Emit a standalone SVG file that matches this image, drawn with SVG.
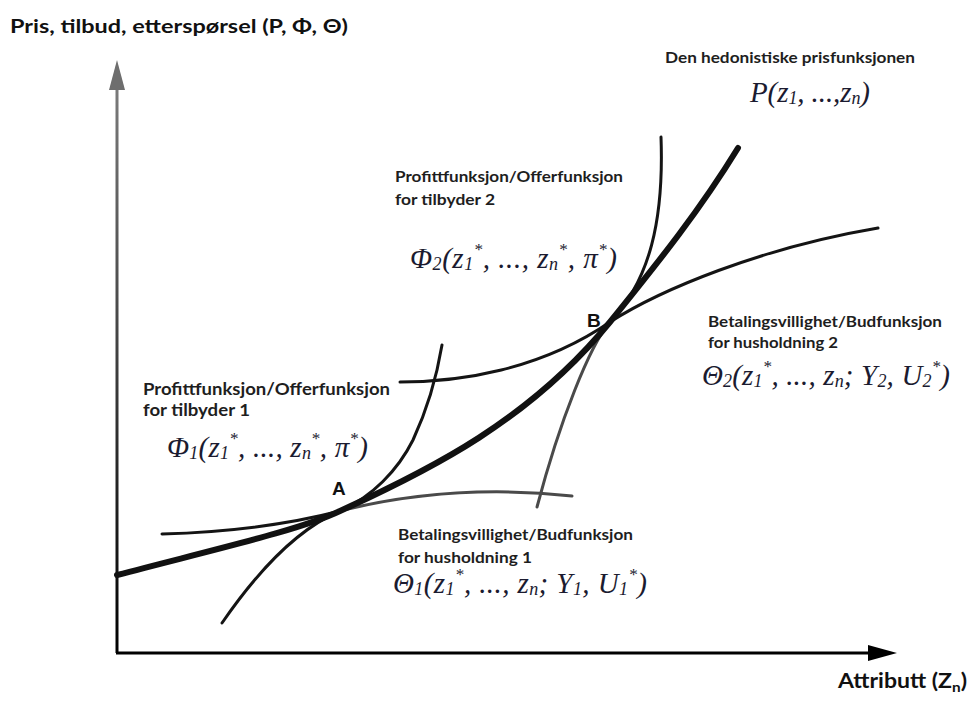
<svg xmlns="http://www.w3.org/2000/svg" width="971" height="702" viewBox="0 0 971 702">
<style>
.lbl{font-family:Lato,"Liberation Sans",Arial,sans-serif;font-weight:bold;fill:#1e1e1e}
.ax{font-family:Lato,"Liberation Sans",Arial,sans-serif;font-weight:bold;fill:#111}
.pt{font-family:"Liberation Sans",Arial,sans-serif;font-weight:bold;fill:#111;font-size:19px}
.m{font-family:"Liberation Serif","Times New Roman",serif;font-style:italic;fill:#1b1b30;font-size:29px}
.s{font-size:18px}
.a{font-size:17px}
.c{fill:none;stroke-linecap:round;stroke-linejoin:round}
.thin{stroke:#141414;stroke-width:3}
.gray{stroke:#4a4a4a;stroke-width:3}
.thick{stroke:#111;stroke-width:6}
</style>
<defs>
<linearGradient id="yg" gradientUnits="userSpaceOnUse" x1="0" y1="655" x2="0" y2="60">
<stop offset="0" stop-color="#000"/>
<stop offset="1" stop-color="#808080"/>
</linearGradient>
</defs>
<rect width="971" height="702" fill="#fff"/>
<g id="axes">
<line x1="117" y1="653" x2="117" y2="86" stroke="url(#yg)" stroke-width="3"/>
<polygon points="109,90 117,60 125,90" fill="#6e6e6e"/>
<line x1="116" y1="653" x2="872" y2="653" stroke="#000" stroke-width="3"/>
<polygon points="868,645 897,653 868,661" fill="#000"/>
<text class="ax" x="10" y="33" font-size="19" textLength="338" lengthAdjust="spacingAndGlyphs">Pris, tilbud, etterspørsel (P, Φ, Θ)</text>
<text class="ax" x="838" y="688" font-size="21" textLength="129" lengthAdjust="spacingAndGlyphs">Attributt (Z<tspan font-size="14" dy="4">n</tspan><tspan dy="-4">)</tspan></text>
</g>
<g id="connectors">
<path id="theta1a" class="c thin" d="M162,534 C230,532 290,524 340,511"/>
<path id="theta1b" class="c gray" d="M340,511 C400,496 480,486 572,496"/>
<path id="phi1" class="c thin" d="M222,623 C255,575 295,530 340,511 C372,497 398,470 413,440 C427,410 437,375 442,345"/>
<path id="theta2" class="c thin" d="M400,382 C460,382 540,370 610,322 C660,290 760,248 878,228"/>
<path id="phi2a" class="c thin" d="M661,137 C664,220 650,280 610,322"/>
<path id="phi2b" class="c gray" d="M610,322 C590,345 560,420 537,507"/>
<path id="P" class="c thick" d="M117,575 C220,548 300,530 340,511 C430,470 530,420 610,322 C660,260 700,210 738,148"/>
</g>
<g id="node-P">
<text class="lbl" x="665" y="63" font-size="14.5" textLength="250" lengthAdjust="spacingAndGlyphs">Den hedonistiske prisfunksjonen</text>
<text class="m" x="750" y="102" textLength="120" lengthAdjust="spacing">P(z<tspan class="s" dy="2">1</tspan><tspan dy="-2">, ...,z</tspan><tspan class="s" dy="2">n</tspan><tspan dy="-2">)</tspan></text>
</g>
<g id="node-phi2">
<text class="lbl" x="395" y="182" font-size="16" textLength="228" lengthAdjust="spacingAndGlyphs">Profittfunksjon/Offerfunksjon</text>
<text class="lbl" x="395" y="205" font-size="16" textLength="100" lengthAdjust="spacingAndGlyphs">for tilbyder 2</text>
<text class="m" x="410" y="268" textLength="207" lengthAdjust="spacing">Φ<tspan class="s" dy="2">2</tspan><tspan dy="-2">(z</tspan><tspan class="s" dy="2">1</tspan><tspan class="a" dy="-15">*</tspan><tspan dy="13">, ..., z</tspan><tspan class="s" dy="2">n</tspan><tspan class="a" dy="-15">*</tspan><tspan dy="13">, π</tspan><tspan class="a" dy="-13">*</tspan><tspan dy="13">)</tspan></text>
</g>
<g id="node-B">
<text class="pt" x="587" y="327">B</text>
</g>
<g id="node-theta2">
<text class="lbl" x="708" y="327" font-size="16" textLength="234" lengthAdjust="spacingAndGlyphs">Betalingsvillighet/Budfunksjon</text>
<text class="lbl" x="708" y="348" font-size="16" textLength="130" lengthAdjust="spacingAndGlyphs">for husholdning 2</text>
<text class="m" x="702" y="385" textLength="248" lengthAdjust="spacing">Θ<tspan class="s" dy="2">2</tspan><tspan dy="-2">(z</tspan><tspan class="s" dy="2">1</tspan><tspan class="a" dy="-15">*</tspan><tspan dy="13">, ..., z</tspan><tspan class="s" dy="2">n</tspan><tspan dy="-2">; Y</tspan><tspan class="s" dy="2">2</tspan><tspan dy="-2">, U</tspan><tspan class="s" dy="2">2</tspan><tspan class="a" dy="-15">*</tspan><tspan dy="13">)</tspan></text>
</g>
<g id="node-phi1">
<text class="lbl" x="143" y="395" font-size="17" textLength="247" lengthAdjust="spacingAndGlyphs">Profittfunksjon/Offerfunksjon</text>
<text class="lbl" x="143" y="416" font-size="17" textLength="107" lengthAdjust="spacingAndGlyphs">for tilbyder 1</text>
<text class="m" x="167" y="457" textLength="201" lengthAdjust="spacing">Φ<tspan class="s" dy="2">1</tspan><tspan dy="-2">(z</tspan><tspan class="s" dy="2">1</tspan><tspan class="a" dy="-15">*</tspan><tspan dy="13">, ..., z</tspan><tspan class="s" dy="2">n</tspan><tspan class="a" dy="-15">*</tspan><tspan dy="13">, π</tspan><tspan class="a" dy="-13">*</tspan><tspan dy="13">)</tspan></text>
</g>
<g id="node-A">
<text class="pt" x="332" y="495">A</text>
</g>
<g id="node-theta1">
<text class="lbl" x="398" y="540" font-size="16" textLength="235" lengthAdjust="spacingAndGlyphs">Betalingsvillighet/Budfunksjon</text>
<text class="lbl" x="398" y="563" font-size="16" textLength="134" lengthAdjust="spacingAndGlyphs">for husholdning 1</text>
<text class="m" x="393" y="593" textLength="254" lengthAdjust="spacing">Θ<tspan class="s" dy="2">1</tspan><tspan dy="-2">(z</tspan><tspan class="s" dy="2">1</tspan><tspan class="a" dy="-15">*</tspan><tspan dy="13">, ..., z</tspan><tspan class="s" dy="2">n</tspan><tspan dy="-2">; Y</tspan><tspan class="s" dy="2">1</tspan><tspan dy="-2">, U</tspan><tspan class="s" dy="2">1</tspan><tspan class="a" dy="-15">*</tspan><tspan dy="13">)</tspan></text>
</g>
</svg>
